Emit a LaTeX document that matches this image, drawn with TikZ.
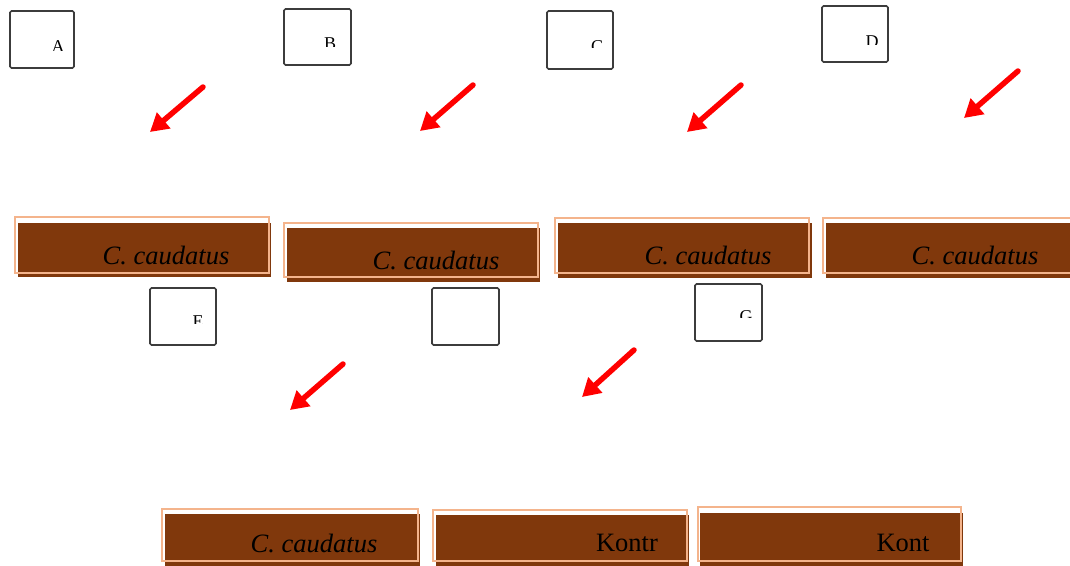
\documentclass[tikz,border=0pt]{standalone}
\usepackage{fontspec}
\setmainfont{Liberation Serif}
\usetikzlibrary{arrows.meta}
\definecolor{barbrown}{RGB}{128,56,12}
\definecolor{barline}{RGB}{244,180,140}
\definecolor{boxline}{RGB}{60,60,60}
\tikzset{
  panel/.style={draw=boxline, line width=1.6pt, rounded corners=1.5pt, fill=white},
  pointer/.style={draw=red, line width=5.5pt, line cap=round, -{Triangle[length=18pt,width=20pt]}},
  barfill/.style={fill=barbrown, draw=none},
  barframe/.style={draw=barline, line width=1.2pt},
  bartext/.style={font=\fontsize{26.5}{27}\selectfont, text=black, inner sep=0pt},
  glyph/.style={font=\fontsize{18}{18}\selectfont, inner sep=0pt, anchor=north},
}
\begin{document}
\begin{tikzpicture}[x=1pt,y=-1pt]
\useasboundingbox (0,0) rectangle (1070,565);

% ---- top row of small panels
\draw[panel] (10,11) rectangle (74,68);
\draw[panel] (284,9) rectangle (351,65);
\draw[panel] (547,11) rectangle (613,69);
\draw[panel] (822,6) rectangle (888,62);
% ---- second row of small panels
\draw[panel] (150,288) rectangle (216,345);
\draw[panel] (432,288) rectangle (499,345);
\draw[panel] (695,284) rectangle (762,341);

% ---- clipped glyphs inside panels
\begin{scope}\clip (48,39) rectangle (68,50);
  \node[glyph] (gA) at (58,40) {A};\end{scope}
\begin{scope}\clip (318,37) rectangle (342,46);
  \node[glyph] (gB) at (330,38) {B};\end{scope}
\begin{scope}\clip (585,39) rectangle (610,47);
  \node[glyph] (gC) at (597,40) {C};\end{scope}
\begin{scope}\clip (860,35) rectangle (885,44);
  \node[glyph] (gD) at (872,36) {D};\end{scope}
\begin{scope}\clip (188,315) rectangle (208,323);
  \node[glyph] (gE) at (198,316) {E};\end{scope}
\begin{scope}\clip (734,309) rectangle (758,317);
  \node[glyph] (gG) at (746,310) {G};\end{scope}

% ---- arrows
\coordinate (a1s) at (203,87);  \coordinate (a1e) at (150,132);
\coordinate (a2s) at (473,85);  \coordinate (a2e) at (420,131);
\coordinate (a3s) at (741,85);  \coordinate (a3e) at (687,132);
\coordinate (a4s) at (1018,71); \coordinate (a4e) at (964,118);
\coordinate (a5s) at (343,364); \coordinate (a5e) at (290,410);
\coordinate (a6s) at (634,350); \coordinate (a6e) at (582,397);
\draw[pointer] (a1s) -- (a1e);
\draw[pointer] (a2s) -- (a2e);
\draw[pointer] (a3s) -- (a3e);
\draw[pointer] (a4s) -- (a4e);
\draw[pointer] (a5s) -- (a5e);
\draw[pointer] (a6s) -- (a6e);

% ---- brown bars, first row
\fill[barfill] (18,223) rectangle (271,277);
\draw[barframe] (15,217) rectangle (269,273);
\node[bartext] (t1) at (166,255) {\itshape C. caudatus};

\fill[barfill] (287,228) rectangle (540,282);
\draw[barframe] (284,223) rectangle (538,277);
\node[bartext] (t2) at (436,260) {\itshape C. caudatus};

\fill[barfill] (558,223) rectangle (812,278);
\draw[barframe] (555,218) rectangle (809,273);
\node[bartext] (t3) at (708,255) {\itshape C. caudatus};

\fill[barfill] (826,223) rectangle (1075,278);
\draw[barframe] (823,218) rectangle (1075,273);
\node[bartext] (t4) at (975,255) {\itshape C. caudatus};

% ---- brown bars, bottom row
\fill[barfill] (165,514) rectangle (420,566);
\draw[barframe] (162,509) rectangle (418,561);
\node[bartext] (t5) at (314,543) {\itshape C. caudatus};

\fill[barfill] (436,515) rectangle (689,566);
\draw[barframe] (433,510) rectangle (687,561);
\node[bartext] (t6) at (627,543) {Kontr};

\fill[barfill] (700,513) rectangle (963,566);
\draw[barframe] (698,507) rectangle (961,561);
\node[bartext] (t7) at (903,543) {Kont};
\end{tikzpicture}
\end{document}
